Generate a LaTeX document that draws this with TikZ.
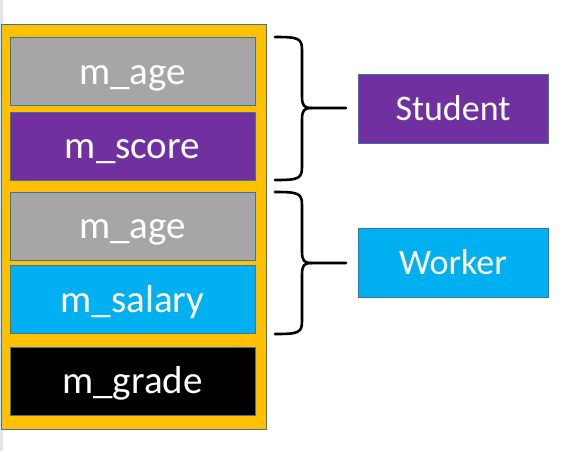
\documentclass[tikz,border=0pt]{standalone}
\usepackage{fontspec}
\setmainfont{Carlito}
\definecolor{cgray}{HTML}{A6A6A6}
\definecolor{cpurple}{HTML}{7030A0}
\definecolor{ccyan}{HTML}{00B0F0}
\definecolor{cyellow}{HTML}{FFC000}
\definecolor{cedge}{HTML}{41719C}
\tikzset{
  field/.style={draw=cedge, line width=1pt, minimum width=245pt, minimum height=68pt, inner sep=0pt, text=white, font=\fontsize{39}{40}\selectfont, text height=25pt, text depth=0pt},
  cls/.style={draw=cedge, line width=1pt, minimum width=190pt, minimum height=69pt, inner sep=0pt, text=white, font=\fontsize{36}{38}\selectfont, text height=23pt, text depth=0pt},
  bracepath/.style={line width=2.6pt, line cap=round, line join=round}
}
\begin{document}
\begin{tikzpicture}[x=1pt,y=-1pt]
\useasboundingbox (0,0) rectangle (562,451);
\fill[black!10] (0,0) rectangle (3,451);
\node[draw=cedge, fill=cyellow, line width=1pt, minimum width=265pt, minimum height=405pt, inner sep=0pt] (outer) at (133.5,227) {};
\node[field, fill=cgray] (age1) at (132.5,71.5) {m\_age};
\node[field, fill=cpurple] (score) at (132.5,146) {m\_score};
\node[field, fill=cgray] (age2) at (132.5,226) {m\_age};
\node[field, fill=ccyan] (salary) at (132.5,299.5) {m\_salary};
\node[field, fill=black] (grade) at (132.5,381) {m\_grade};
\node[cls, fill=cpurple] (student) at (453,108.5) {Student};
\node[cls, fill=ccyan] (worker) at (453,262.5) {Worker};
% braces
\coordinate (sb) at (346,108);
\coordinate (wb) at (346,263);
\draw[bracepath] (275,37) .. controls (298,37) and (302,38) .. (302,50) -- (302,96) .. controls (302,106) and (304,108) .. (312,108) -- (sb);
\draw[bracepath] (275,180) .. controls (298,180) and (302,179) .. (302,167) -- (302,120) .. controls (302,110) and (304,108) .. (312,108);
\draw[bracepath] (275,192) .. controls (298,192) and (302,193) .. (302,205) -- (302,251) .. controls (302,261) and (304,263) .. (312,263) -- (wb);
\draw[bracepath] (275,334) .. controls (298,334) and (302,333) .. (302,321) -- (302,275) .. controls (302,265) and (304,263) .. (312,263);
\end{tikzpicture}
\end{document}
